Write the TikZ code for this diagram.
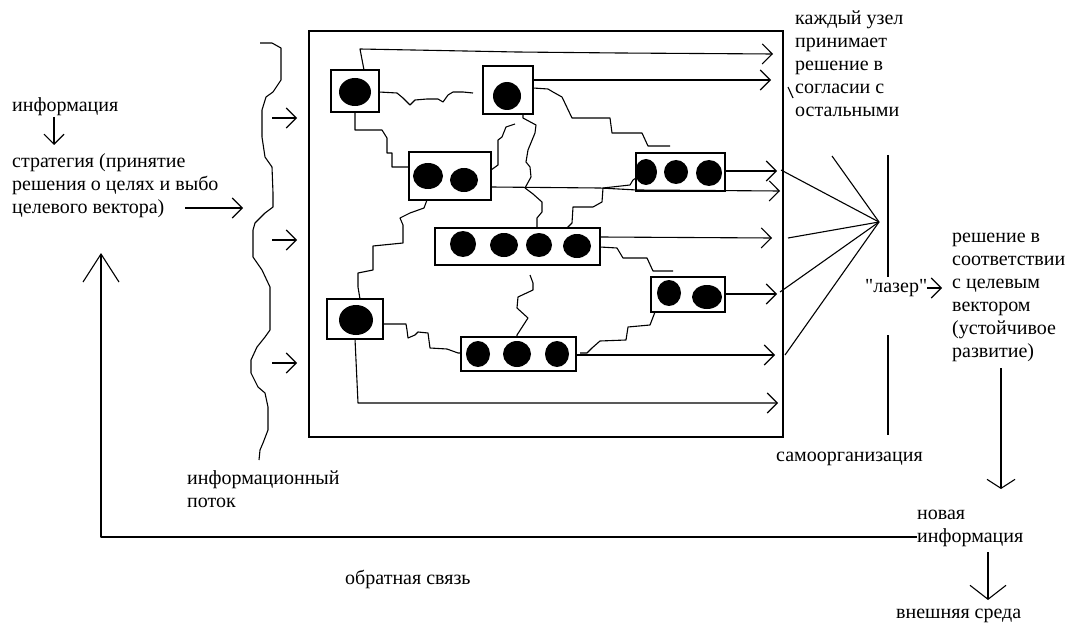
\documentclass[tikz,border=0pt]{standalone}
\usepackage{fontspec}
\setmainfont{Liberation Serif}
\newfontfamily\plainquote{Liberation Serif}[Ligatures=ResetAll]
\usetikzlibrary{arrows.meta}
\begin{document}
\begin{tikzpicture}[x=1pt,y=-1pt,
  ln/.style={line width=1.1pt, line join=round},
  arr/.style={ln, -{Straight Barb[length=10pt,width=20pt]}},
  bigarr/.style={ln, -{Straight Barb[length=28pt,width=36pt]}},
  nbox/.style={draw, line width=1.1pt, inner sep=0pt, outer sep=0pt, anchor=north west},
  lbl/.style={font=\fontsize{20}{23}\selectfont, align=left, inner sep=0pt, anchor=base west}]
\useasboundingbox (0,0) rectangle (1079,623);

% system frame
\node[nbox, minimum width=474pt, minimum height=406pt] (sys) at (309,31) {};

% decision nodes
\node[nbox, minimum width=48pt,  minimum height=42pt] (A) at (331,70) {};
\node[nbox, minimum width=50pt,  minimum height=48pt] (B) at (483,66) {};
\node[nbox, minimum width=82pt,  minimum height=48pt] (C) at (409,152) {};
\node[nbox, minimum width=89pt,  minimum height=38pt] (D) at (636,153) {};
\node[nbox, minimum width=165pt, minimum height=37pt] (E) at (435,228) {};
\node[nbox, minimum width=74pt,  minimum height=35pt] (F) at (651,277) {};
\node[nbox, minimum width=56pt,  minimum height=40pt] (G) at (327,299) {};
\node[nbox, minimum width=115pt, minimum height=34pt] (H) at (461,337) {};

% members of each node
\fill (355,92) ellipse [x radius=16pt, y radius=14pt];
\fill (507,96) ellipse [x radius=14pt, y radius=14pt];
\fill (428,176) ellipse [x radius=15pt, y radius=13pt];
\fill (464,180) ellipse [x radius=14pt, y radius=12pt];
\fill (646,172) ellipse [x radius=11pt, y radius=13pt];
\fill (676,172) ellipse [x radius=12pt, y radius=12pt];
\fill (709,173) ellipse [x radius=13pt, y radius=13pt];
\fill (463,244) ellipse [x radius=13pt, y radius=13pt];
\fill (504,245) ellipse [x radius=14pt, y radius=12pt];
\fill (539,245) ellipse [x radius=13pt, y radius=12pt];
\fill (577,246) ellipse [x radius=14pt, y radius=12pt];
\fill (669,293) ellipse [x radius=12pt, y radius=13pt];
\fill (707,297) ellipse [x radius=15pt, y radius=12pt];
\fill (356,320) ellipse [x radius=17pt, y radius=15pt];
\fill (478,354) ellipse [x radius=12pt, y radius=13pt];
\fill (517,354) ellipse [x radius=14pt, y radius=13pt];
\fill (557,354) ellipse [x radius=12pt, y radius=13pt];

% outputs of the nodes
\draw[arr] (364,70) -- (360,49) -- (413,50) -- (517,52) -- (620,53) -- (773,54);
\draw[arr] (B.east |- 0,80) -- (771,80);
\draw[arr] (D.east |- 0,171) -- (777,171);
\draw[arr] (C.east |- 0,187) -- (600,188) -- (637,190) -- (780,191);
\draw[arr] (E.east |- 0,237) -- (772,238);
\draw[arr] (F.east |- 0,294) -- (777,294);
\draw[arr] (H.east |- 0,355) -- (775,355);
\draw[arr] (G.south) -- (358,403) -- (778,403);

% links between nodes
\draw[ln] (A.east |- 0,92) -- (397,93) -- (403,98) -- (410,105) -- (415,100) -- (427,99)
  -- (438,99) -- (443,102) -- (448,95) -- (453,92) -- (463,92) -- (473,93);
\draw[ln] (A.south) -- (355,130) -- (382,130) -- (387,138) -- (387,153) -- (392,153)
  -- (392,167) -- (C.west |- 0,167);
\draw[ln] (C.east |- 0,170) -- (498,165) -- (498,140) -- (502,137) -- (506,127) -- (515,124);
\draw[ln] (523,114) -- (523,118) -- (536,125) -- (535,133) -- (528,150) -- (526,162) -- (530,167)
  -- (531,177) -- (525,188) -- (533,194) -- (542,202) -- (542,212) -- (537,218) -- (E.north -| 537,0);
\draw[ln] (B.east |- 0,88) -- (548,89) -- (553,92) -- (562,97) -- (572,118) -- (610,118)
  -- (612,133) -- (642,133) -- (648,146) -- (670,146);
\draw[ln] (C.south -| 427,0) -- (424,208) -- (410,213) -- (400,218) -- (403,225) -- (403,243)
  -- (373,246) -- (373,270) -- (358,273) -- (358,287) -- (G.north -| 360,0);
\draw[ln] (D.west |- 0,178) -- (633,180) -- (630,185) -- (603,188) -- (602,202) -- (593,207)
  -- (573,207) -- (572,223) -- (E.north -| 567,0);
\draw[ln] (600,247) -- (617,248) -- (623,258) -- (647,258) -- (653,271) -- (673,271);
\draw[ln] (530,275) -- (533,283) -- (533,290) -- (518,297) -- (517,308) -- (528,318)
  -- (517,335) -- (H.north -| 517,0);
\draw[ln] (G.east |- 0,324) -- (406,324) -- (407,330) -- (408,338) -- (415,335) -- (418,332)
  -- (428,333) -- (430,348) -- (447,349) -- (458,353) -- (H.west |- 0,353);
\draw[ln] (F.south -| 655,0) -- (650,325) -- (628,327) -- (626,340) -- (600,341) -- (592,348)
  -- (587,353) -- (580,353);

% information stream (wavy front)
\draw[ln] (260,43) -- (272,43) -- (281,48) -- (281,80) -- (273,92) -- (266,97) -- (262,110)
  -- (262,137) -- (265,157) -- (272,167) -- (273,193) -- (273,207) -- (265,213) -- (255,223)
  -- (253,230) -- (253,257) -- (262,270) -- (270,287) -- (270,330) -- (265,337) -- (257,347)
  -- (251,360) -- (251,373) -- (258,387) -- (265,393) -- (268,407) -- (268,430) -- (263,443)
  -- (260,450) -- (259,460);
\coordinate (in1) at (297,118);
\coordinate (in2) at (297,240);
\coordinate (in3) at (297,363);
\draw[arr] (272,118) -- (in1);
\draw[arr] (272,240) -- (in2);
\draw[arr] (272,363) -- (in3);

% texts (multi-line nodes are placed by the baseline of their last line)
\node[lbl] (info) at (12,112) {информация};
\node[lbl] (strat) at (12,213) {стратегия (принятие\\решения о целях и выбо\\целевого вектора)};
\node[lbl] (flow) at (187,507) {информационный\\поток};
\node[lbl] (fb) at (345,584) {обратная связь};
\node[lbl] (each) at (795,117) {каждый узел\\принимает\\решение в\\согласии с\\остальными};
\node[lbl] (self) at (776,461) {самоорганизация};
\node[lbl] (laser) at (865,292) {{\plainquote "}лазер{\plainquote "}};
\node[lbl] (dec) at (952,357) {решение в\\соответствии\\с целевым\\вектором\\(устойчивое\\развитие)};
\node[lbl] (new) at (917,542) {новая\\информация};
\node[lbl] (env) at (896,618) {внешняя среда};

\draw[ln] (788,87) -- (793,98);

% strategy and information arrows
\draw[arr] (54,117) -- (54,145);
\draw[arr] (185,208) -- (243,208);

% focusing into the "laser"
\coordinate (focus) at (879,222);
\draw[ln] (888,155) -- (888,277);
\draw[ln] (888,335) -- (888,435);
\draw[ln] (832,156) -- (focus);
\draw[ln] (781,170) -- (focus);
\draw[ln] (788,238) -- (focus);
\draw[ln] (780,292) -- (focus);
\draw[ln] (785,355) -- (focus);
\draw[arr] (laser.east |- 0,288) -- (942,288);

% decision, new information, environment
\draw[ln, -{Straight Barb[length=9pt,width=28pt]}] (1001,368) -- (1001,489);
\draw[ln, -{Straight Barb[length=14pt,width=36pt]}] (988,552) -- (988,600);

% feedback loop
\draw[bigarr] (new.west |- 0,537) -- (101,537) -- (101,253);
\end{tikzpicture}
\end{document}
